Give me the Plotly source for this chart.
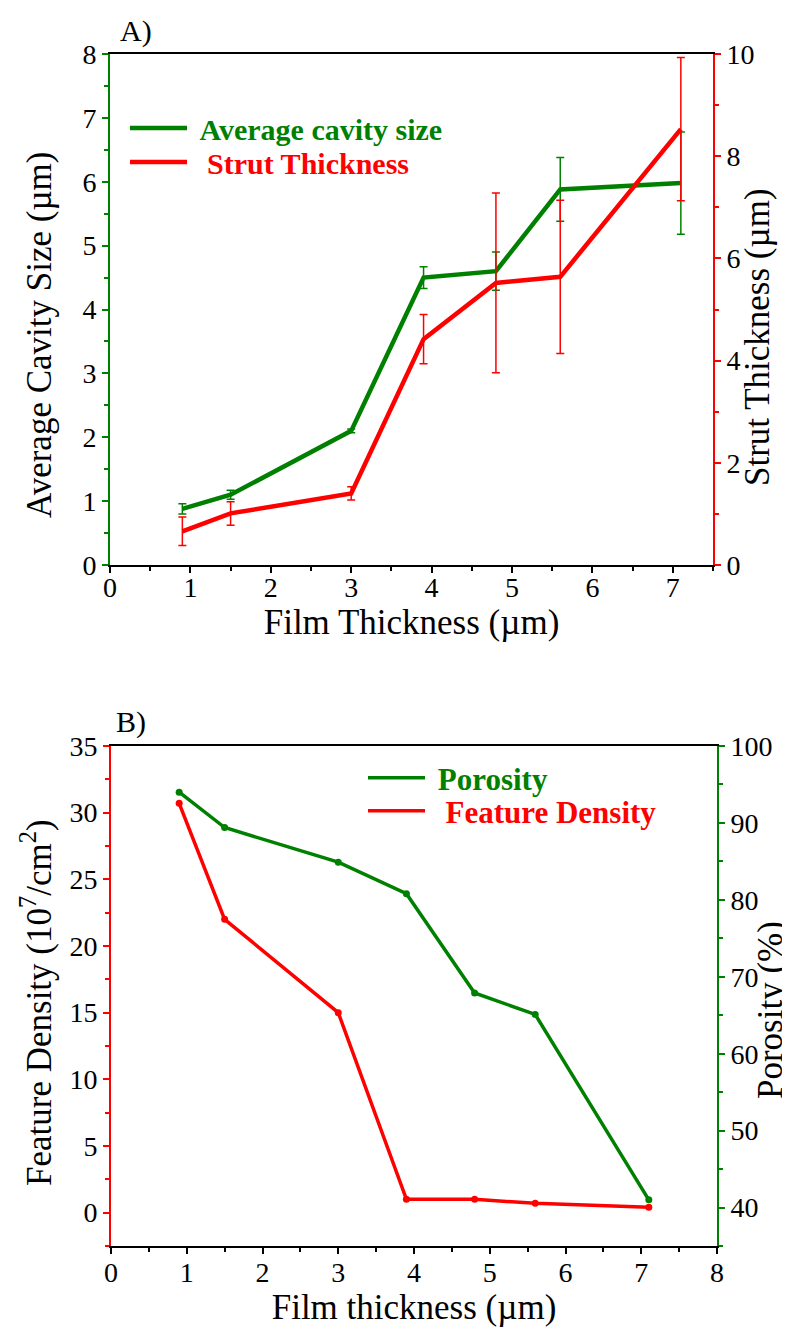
import plotly.graph_objects as go

# ---------------- data ----------------
film = [0.9, 1.5, 3.0, 3.9, 4.8, 5.6, 7.1]
cavity = [0.88, 1.10, 2.10, 4.50, 4.60, 5.88, 5.98]
cavity_err = [0.08, 0.07, 0.03, 0.17, 0.30, 0.50, 0.80]
strut = [0.66, 1.01, 1.40, 4.42, 5.52, 5.64, 8.53]
strut_err = [0.28, 0.23, 0.13, 0.48, 1.76, 1.50, 1.40]
porosity = [94.0, 89.4, 84.9, 80.8, 67.9, 65.1, 41.0]
density = [30.7, 22.0, 15.0, 1.0, 1.0, 0.7, 0.4]

GREEN = "#008000"
RED = "#ff0000"
FONT = "Liberation Serif"
OFF = 8                      # page body margin of the written html
W, H = 790 - OFF, 1331 - OFF
SP = "\u00a0"


def px_x(p):
    return (p - OFF) / W


def px_y(p):
    return 1 - (p - OFF) / H


fig = go.Figure()

# ---- panel A ----
fig.add_trace(go.Scatter(
    x=film, y=cavity, mode="lines", xaxis="x", yaxis="y",
    name=SP + "<span style='color:#008000'><b>Average cavity size</b></span>",
    line=dict(color=GREEN, width=4.5),
    error_y=dict(type="data", array=cavity_err, color=GREEN, thickness=1.5, width=4),
    legend="legend"))
fig.add_trace(go.Scatter(
    x=film, y=strut, mode="lines", xaxis="x", yaxis="y2",
    name=SP + SP + "<span style='color:#ff0000'><b>Strut Thickness</b></span>",
    line=dict(color=RED, width=4.5),
    error_y=dict(type="data", array=strut_err, color=RED, thickness=1.5, width=4),
    legend="legend2"))

# ---- panel B ----
fig.add_trace(go.Scatter(
    x=film, y=porosity, mode="lines", xaxis="x2", yaxis="y4",
    name=SP + "<span style='color:#008000'><b>Porosity</b></span>",
    line=dict(color=GREEN, width=3.5), legend="legend3"))
fig.add_trace(go.Scatter(
    x=film, y=density, mode="lines", xaxis="x2", yaxis="y3",
    name=SP + SP + "<span style='color:#ff0000'><b>Feature Density</b></span>",
    line=dict(color=RED, width=3.5), legend="legend4"))
fig.add_trace(go.Scatter(
    x=film, y=porosity, mode="markers", xaxis="x2", yaxis="y4",
    marker=dict(color=GREEN, size=7), showlegend=False))
fig.add_trace(go.Scatter(
    x=film, y=density, mode="markers", xaxis="x2", yaxis="y3",
    marker=dict(color=RED, size=7), showlegend=False))

tickfont = dict(family=FONT, size=28, color="black")
titlefont = dict(family=FONT, size=35, color="black")


def xax(domain, anchor, rng, title, standoff, labeloff):
    return dict(domain=domain, anchor=anchor, range=rng, tick0=0, dtick=1,
                showline=True, linecolor="black", linewidth=2, mirror=True,
                ticks="outside", ticklen=6, tickwidth=2, tickcolor="black",
                minor=dict(dtick=0.5, ticklen=4, tickwidth=2, tickcolor="black", ticks="outside"),
                showgrid=False, zeroline=False, tickfont=tickfont,
                ticklabelstandoff=labeloff,
                title=dict(text=title, font=titlefont, standoff=standoff),
                automargin=False)


def yax(domain, anchor, rng, dtick, mdtick, color, side="left", overlaying=None):
    d = dict(domain=domain, anchor=anchor, range=rng, tick0=0, dtick=dtick, side=side,
             showline=True, linecolor=color, linewidth=2,
             ticks="outside", ticklen=6, tickwidth=2, tickcolor=color,
             minor=dict(dtick=mdtick, ticklen=4, tickwidth=2, tickcolor=color, ticks="outside"),
             showgrid=False, zeroline=False, tickfont=tickfont,
             automargin=False)
    if overlaying:
        d["overlaying"] = overlaying
    return d


def ytitle(text, x, y):
    return dict(text=text, x=px_x(x), y=px_y(y), xref="paper", yref="paper",
                xanchor="center", yanchor="middle", textangle=-90, showarrow=False,
                font=titlefont)


def legend_at(x, y, size):
    return dict(x=px_x(x), y=px_y(y), xanchor="left", yanchor="middle",
                bgcolor="rgba(0,0,0,0)", font=dict(family=FONT, size=size),
                itemwidth=57, itemclick=False, itemdoubleclick=False)


dA_x = [px_x(110), px_x(713)]
dA_y = [px_y(565), px_y(54)]
dB_x = [px_x(111), px_x(717)]
dB_y = [px_y(1246), px_y(746)]

fig.update_layout(
    width=W, height=H,
    margin=dict(l=0, r=0, t=0, b=0),
    paper_bgcolor="white", plot_bgcolor="white",
    font=dict(family=FONT, color="black"),
    xaxis=xax(dA_x, "y", [0, 7.5], "Film Thickness (µm)", 0, -10),
    yaxis=yax(dA_y, "x", [0, 8], 1, 0.5, GREEN),
    yaxis2=yax(dA_y, "x", [0, 10], 2, 1, RED, side="right", overlaying="y"),
    xaxis2=xax(dB_x, "y3", [0, 8], "Film thickness (µm)", 2, -6),
    yaxis3=yax(dB_y, "x2", [-2.5, 35], 5, 2.5, RED),
    yaxis4=yax(dB_y, "x2", [35, 100], 10, 5, GREEN, side="right", overlaying="y3"),
    legend=legend_at(125, 128, 30),
    legend2=legend_at(125, 162, 30),
    legend3=legend_at(363, 778, 31),
    legend4=legend_at(363, 811, 31),
    annotations=[
        ytitle("Average Cavity Size (µm)", 40, 335),
        ytitle("Strut Thickness (µm)", 758, 337),
        ytitle("Feature Density (10<sup>7</sup>/cm<sup>2</sup>)", 36, 1003),
        ytitle("Porosity (%)", 770, 1010),
        dict(text="A)", x=px_x(118), y=px_y(31), xref="paper", yref="paper",
             xanchor="left", yanchor="middle", showarrow=False,
             font=dict(family=FONT, size=30, color="black")),
        dict(text="B)", x=px_x(114), y=px_y(722), xref="paper", yref="paper",
             xanchor="left", yanchor="middle", showarrow=False,
             font=dict(family=FONT, size=30, color="black")),
    ],
)

fig.write_html("out.html")
